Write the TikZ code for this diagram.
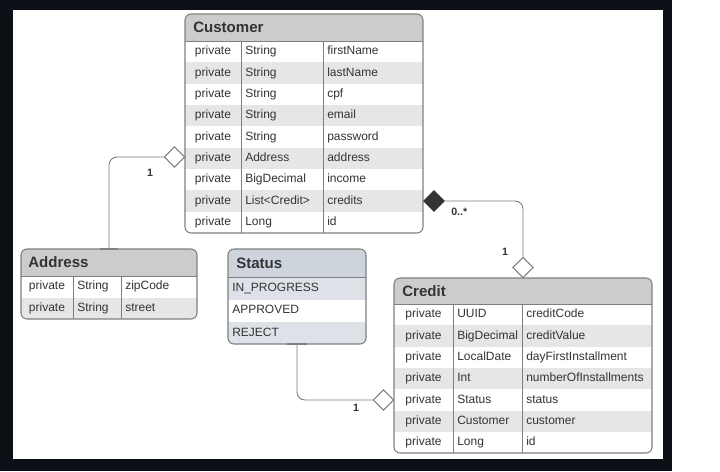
\documentclass[tikz,border=0pt]{standalone}
\usepackage{fontspec}
\setmainfont{Liberation Sans}
\usetikzlibrary{fit,shapes.geometric}
\definecolor{framedark}{HTML}{0C0F16}
\definecolor{headgray}{HTML}{CCCCCC}
\definecolor{rowgray}{HTML}{E6E6E6}
\definecolor{enumhead}{HTML}{CED4DC}
\definecolor{enumrow}{HTML}{DEE2E8}
\definecolor{boxline}{HTML}{7F7F7F}
\definecolor{textgray}{HTML}{333333}
\begin{document}
\begin{tikzpicture}[x=0.75pt,y=-0.75pt,
  box/.style={inner sep=0pt,outer sep=0pt},
  border/.style={draw=boxline,line width=0.8pt,rounded corners=4.5pt},
  divider/.style={draw=boxline,line width=0.6pt},
  title/.style={anchor=west,font=\bfseries\fontsize{11.3}{13}\selectfont,text=textgray,inner sep=0pt,text height=8.2pt,text depth=0pt},
  cell/.style={anchor=west,font=\fontsize{9}{11}\selectfont,text=textgray,inner sep=0pt,text height=6.6pt,text depth=1.8pt},
  vis/.style={cell,anchor=center},
  link/.style={draw=boxline,line width=0.7pt,rounded corners=6pt},
  tick/.style={draw=boxline,line width=1.4pt},
  tip/.style={diamond,draw=boxline,fill=white,line width=0.7pt,aspect=1,minimum size=15.5pt,inner sep=0pt},
  mult/.style={font=\bfseries\fontsize{8}{10}\selectfont,text=textgray,inner sep=0pt}]
  \useasboundingbox (0,0) rectangle (720,471);
  \fill[white] (0,0) rectangle (720,471);
  \fill[framedark] (0,0) rectangle (672,471);
  \fill[white] (13,10) rectangle (663,459);

  % Customer
  \node[box,fit={(185,14) (423,233)}] (customer) {};
  \fill[white,rounded corners=4.5pt] (customer.north west) rectangle (customer.south east);
  \begin{scope}
    \clip[rounded corners=4.5pt] (customer.north west) rectangle (customer.south east);
    \fill[headgray] (185,14) rectangle (423,41);
    \foreach \i in {2,4,6,8} \fill[rowgray] (185,{41+(\i-1)*21.33}) rectangle (423,{41+\i*21.33});
  \end{scope}
  \draw[divider] (185,41) -- (423,41) (241,41) -- (241,233) (323,41) -- (323,233);
  \draw[border] (customer.north west) rectangle (customer.south east);
  \node[title] (customer-title) at (193,27.5) {Customer};
  \foreach \type/\attr [count=\i] in {String/firstName,String/lastName,String/cpf,String/email,
      String/password,Address/address,BigDecimal/income,List<Credit>/credits,Long/id}
  {
    \node[vis] (customer-vis-\i) at (213,{41+(\i-0.5)*21.33}) {private};
    \node[cell] (customer-type-\i) at (245,{41+(\i-0.5)*21.33}) {\type};
    \node[cell] (customer-attr-\i) at (327,{41+(\i-0.5)*21.33}) {\attr};
  }

  % Address
  \node[box,fit={(21,249) (197,319)}] (address) {};
  \fill[white,rounded corners=4.5pt] (address.north west) rectangle (address.south east);
  \begin{scope}
    \clip[rounded corners=4.5pt] (address.north west) rectangle (address.south east);
    \fill[headgray] (21,249) rectangle (197,276);
    \fill[rowgray] (21,297.5) rectangle (197,319);
  \end{scope}
  \draw[divider] (21,276) -- (197,276) (73,276) -- (73,319) (121,276) -- (121,319);
  \draw[border] (address.north west) rectangle (address.south east);
  \node[title] (address-title) at (28,262.5) {Address};
  \foreach \attr [count=\i] in {zipCode,street}
  {
    \node[vis] (address-vis-\i) at (47,{276+(\i-0.5)*21.5}) {private};
    \node[cell] (address-type-\i) at (77,{276+(\i-0.5)*21.5}) {String};
    \node[cell] (address-attr-\i) at (125,{276+(\i-0.5)*21.5}) {\attr};
  }

  % Status
  \node[box,fit={(228,249) (366,344)}] (status) {};
  \fill[white,rounded corners=4.5pt] (status.north west) rectangle (status.south east);
  \begin{scope}
    \clip[rounded corners=4.5pt] (status.north west) rectangle (status.south east);
    \fill[enumhead] (228,249) rectangle (366,277);
    \fill[enumrow] (228,277) rectangle (366,299.5);
    \fill[enumrow] (228,321.7) rectangle (366,344);
  \end{scope}
  \draw[divider] (228,277) -- (366,277);
  \draw[border] (status.north west) rectangle (status.south east);
  \node[title] (status-title) at (236,263) {Status};
  \foreach \val [count=\i] in {IN\_PROGRESS,APPROVED,REJECT}
    \node[cell] (status-val-\i) at (232,{277+(\i-0.5)*22.33}) {\val};

  % Credit
  \node[box,fit={(394,278) (652,453)}] (credit) {};
  \fill[white,rounded corners=4.5pt] (credit.north west) rectangle (credit.south east);
  \begin{scope}
    \clip[rounded corners=4.5pt] (credit.north west) rectangle (credit.south east);
    \fill[headgray] (394,278) rectangle (652,304);
    \foreach \i in {2,4,6} \fill[rowgray] (394,{304+(\i-1)*21.33}) rectangle (652,{304+\i*21.33});
  \end{scope}
  \draw[divider] (394,304) -- (652,304) (453,304) -- (453,453) (522,304) -- (522,453);
  \draw[border] (credit.north west) rectangle (credit.south east);
  \node[title] (credit-title) at (402,291) {Credit};
  \foreach \type/\attr [count=\i] in {UUID/creditCode,BigDecimal/creditValue,LocalDate/dayFirstInstallment,
      Int/numberOfInstallments,Status/status,Customer/customer,Long/id}
  {
    \node[vis] (credit-vis-\i) at (423.5,{304+(\i-0.5)*21.33}) {private};
    \node[cell] (credit-type-\i) at (457,{304+(\i-0.5)*21.33}) {\type};
    \node[cell] (credit-attr-\i) at (526,{304+(\i-0.5)*21.33}) {\attr};
  }

  % connectors
  \node[tip] (address-end) at (174.5,157) {};
  \node[tip,fill=textgray,draw=textgray] (credits-end) at (434,201) {};
  \node[tip] (customer-end) at (523,267.5) {};
  \node[tip] (status-end) at (383.5,400) {};
  \draw[link] (address-end.west) -| (address.north);
  \draw[link] (credits-end.east) -| (customer-end.north);
  \draw[link] (status.south) |- (status-end.west);
  \draw[tick] ([xshift=-6.75pt]address.north) -- ([xshift=6.75pt]address.north);
  \draw[tick] ([xshift=-7.5pt]status.south) -- ([xshift=7.5pt]status.south);
  \node[mult] (address-mult) at (150,173) {1};
  \node[mult,anchor=west] (credits-mult) at (451,212) {0..*};
  \node[mult] (customer-mult) at (505,252) {1};
  \node[mult] (status-mult) at (356,408) {1};
\end{tikzpicture}
\end{document}
